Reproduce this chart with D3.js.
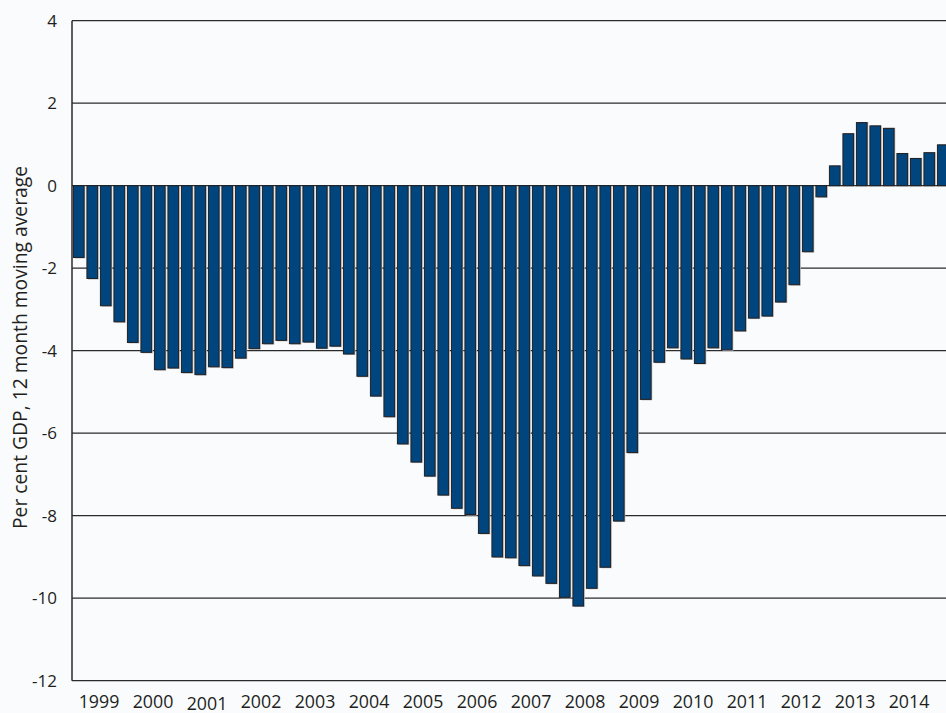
<!DOCTYPE html>
<html>
<head>
<meta charset="utf-8">
<script src="https://cdn.jsdelivr.net/npm/d3@7"></script>
<style>
  html, body { margin: 0; padding: 0; background: #f9fbfd; }
  svg { display: block; }
  text { font-family: "Open Sans", "Noto Sans", sans-serif; fill: #231f20; }
</style>
</head>
<body>
<svg id="chart" width="946" height="713"></svg>
<script>
// Quarterly observations, 1999 Q1 .. 2015 Q1 (per cent of GDP, 12 month moving average)
const quarters = d3.range(65).map(i => `${1999 + Math.floor(i / 4)}Q${(i % 4) + 1}`);
const values = [
  -1.74, -2.25, -2.91, -3.30, -3.80, -4.04, -4.46, -4.42, -4.53, -4.58, -4.39, -4.41,
  -4.18, -3.95, -3.83, -3.75, -3.83, -3.79, -3.94, -3.89, -4.08, -4.62, -5.10, -5.60,
  -6.26, -6.70, -7.04, -7.50, -7.82, -7.97, -8.43, -9.00, -9.02, -9.21, -9.46, -9.64,
  -9.98, -10.19, -9.76, -9.25, -8.13, -6.47, -5.18, -4.28, -3.93, -4.20, -4.31, -3.93,
  -3.98, -3.52, -3.21, -3.16, -2.82, -2.40, -1.60, -0.27, 0.48, 1.26, 1.53, 1.45,
  1.39, 0.78, 0.66, 0.80, 0.99
];
const yearLabels = ["1999","2000","2001","2002","2003","2004","2005","2006","2007","2008","2009","2010","2011","2012","2013","2014"];
const yTicks = [4, 2, 0, -2, -4, -6, -8, -10, -12];
const yTitle = "Per cent GDP, 12 month moving average";

const svg = d3.select("#chart");
const plotLeft = 72, plotTop = 20.7, plotBottom = 680.7;
const step = 13.5;

const x = d3.scaleBand().domain(quarters).range([plotLeft, plotLeft + step * quarters.length]).paddingInner(0.21).paddingOuter(0.105);
const y = d3.scaleLinear().domain([-12, 4]).range([plotBottom, plotTop]);

// gridlines
svg.append("g").selectAll("line").data(yTicks).join("line")
  .attr("x1", plotLeft).attr("x2", 946)
  .attr("y1", d => y(d)).attr("y2", d => y(d))
  .attr("stroke", "#2b2b2b").attr("stroke-width", 1.3);

// bars: shadow + bar
const bars = svg.append("g");
bars.selectAll("rect.shadow").data(values).join("rect").attr("class", "shadow")
  .attr("x", (d, i) => x(quarters[i]) + 1.2)
  .attr("y", d => Math.min(y(d), y(0)) + (d < 0 ? 1 : -0.6))
  .attr("width", x.bandwidth())
  .attr("height", d => Math.abs(y(d) - y(0)))
  .attr("fill", "#b9bcc0");
bars.selectAll("rect.bar").data(values).join("rect").attr("class", "bar")
  .attr("x", (d, i) => x(quarters[i]))
  .attr("y", d => Math.min(y(d), y(0)))
  .attr("width", x.bandwidth())
  .attr("height", d => Math.abs(y(d) - y(0)))
  .attr("fill", "#00457d")
  .attr("stroke", "#231f20").attr("stroke-width", 1);

// y axis line
svg.append("line").attr("x1", plotLeft).attr("x2", plotLeft).attr("y1", plotTop).attr("y2", plotBottom)
  .attr("stroke", "#2b2b2b").attr("stroke-width", 1.5);

// y tick labels (plain hyphen-minus as in the original)
const yAxis = d3.axisLeft(y).tickValues(yTicks).tickSize(0).tickPadding(15).tickFormat(d => String(d));
const ya = svg.append("g").attr("transform", `translate(${plotLeft},0)`).call(yAxis);
ya.select(".domain").remove();
ya.selectAll("text").attr("font-size", 17).attr("font-family", "'Open Sans', sans-serif").attr("fill", "#231f20");

// x labels: one per year, centred on the 4 quarters
const xYear = d3.scaleBand().domain(yearLabels).range([plotLeft, plotLeft + step * 4 * yearLabels.length]);
svg.append("g").selectAll("text").data(yearLabels).join("text")
  .attr("x", d => xYear(d) + xYear.bandwidth() / 2)
  .attr("y", d => d === "2001" ? 709.5 : 707.5)
  .attr("text-anchor", "middle")
  .attr("font-size", 17.8)
  .text(d => d);

// y title
svg.append("text")
  .attr("transform", `translate(27,347.5) rotate(-90)`)
  .attr("text-anchor", "middle")
  .attr("font-size", 19.3)
  .text(yTitle);
</script>
</body>
</html>
